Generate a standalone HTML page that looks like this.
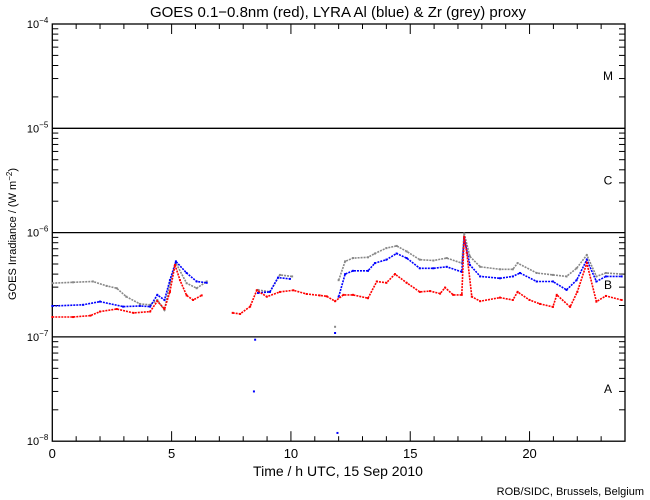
<!DOCTYPE html>
<html><head><meta charset="utf-8"><style>
body{margin:0;background:#fff}
svg{display:block;font-family:"Liberation Sans",sans-serif}
</style></head><body>
<svg id="chart" width="650" height="500" viewBox="0 0 650 500">
<rect width="650" height="500" fill="#fff"/>
<text x="338" y="17" font-size="15" text-anchor="middle">GOES 0.1−0.8nm (red), LYRA Al (blue) &amp; Zr (grey) proxy</text>
<text transform="translate(16,234) rotate(-90)" font-size="11" text-anchor="middle">GOES Irradiance / (W m<tspan dy="-4" font-size="8">−2</tspan><tspan dy="4">)</tspan></text>
<text x="338" y="476" font-size="14" text-anchor="middle">Time / h UTC, 15 Sep 2010</text>
<text x="644" y="495" font-size="11" text-anchor="end">ROB/SIDC, Brussels, Belgium</text>
<g id="axes"></g>
<g id="series"></g>
</svg>
<script>
const redH=[0,0.87,1.6,2.0,2.7,3.4,4.1,4.4,4.7,4.93,5.14,5.35,5.63,5.9,6.26,null,7.56,7.87,8.29,8.57,8.99,9.54,10.1,10.66,11.2,11.5,11.85,12.2,12.6,13.23,13.6,14.0,14.36,14.85,15.4,15.83,16.25,16.46,16.8,17.16,17.26,17.37,17.58,17.93,18.76,19.3,19.5,20.0,20.44,20.98,21.14,21.7,22.0,22.4,22.8,23.2,23.86];
const redV=[1.55,1.55,1.6,1.75,1.85,1.7,1.75,2.2,1.85,2.7,4.9,3.5,2.5,2.26,2.5,null,1.7,1.66,1.95,2.8,2.43,2.7,2.8,2.58,2.5,2.45,2.2,2.53,2.53,2.35,3.4,3.3,4.0,3.3,2.7,2.75,2.6,2.97,2.53,2.53,9.1,6.4,2.43,2.2,2.38,2.26,2.7,2.26,2.07,1.94,2.53,1.94,2.7,5.1,2.18,2.47,2.26];
const blueH=[0,1.29,2.0,2.97,3.67,4.1,4.4,4.7,4.93,5.18,5.63,6.05,6.47,null,8.45,null,8.5,null,8.62,9.12,9.46,9.96,null,11.85,null,11.95,null,12.0,12.27,12.6,13.23,13.52,14.0,14.43,14.85,15.4,15.97,16.53,17.16,17.26,17.5,17.93,18.76,19.3,19.6,20.3,20.98,21.55,21.97,22.4,22.8,23.2,23.86];
const blueV=[1.98,2.03,2.18,1.95,1.98,1.95,2.53,2.26,3.5,5.3,4.1,3.4,3.3,null,0.3,null,0.94,null,2.64,2.7,3.7,3.6,null,1.09,null,0.12,null,2.43,4.0,4.3,4.3,5.1,5.5,6.3,5.7,4.55,4.55,4.7,4.2,8.9,4.9,3.8,3.65,3.8,4.1,3.4,3.4,2.82,3.5,5.5,3.4,3.8,3.8];
const greyH=[0,0.87,1.7,2.28,2.7,3.1,3.67,4.1,4.4,4.7,4.93,5.18,5.63,6.05,6.47,null,8.62,9.12,9.54,10.05,null,11.85,null,12.0,12.27,12.6,13.23,13.52,14.0,14.43,14.85,15.4,15.97,16.53,17.16,17.26,17.5,17.93,18.76,19.3,19.5,20.3,20.98,21.55,21.97,22.4,22.8,23.2,23.86];
const greyV=[3.27,3.34,3.4,3.08,2.93,2.43,2.07,2.03,2.26,1.81,3.27,5.1,3.27,2.93,3.4,null,2.82,2.7,3.93,3.8,null,1.25,null,3.5,5.3,5.7,5.8,6.3,7.1,7.45,6.6,5.5,5.4,5.7,5.1,9.8,5.9,4.7,4.45,4.45,5.1,4.1,3.93,3.8,4.55,6.1,3.8,4.1,4.0];
const xTicks=[0,5,10,15,20];
const decades=[-4,-5,-6,-7,-8];
const classes=["M","C","B","A"];

const NS="http://www.w3.org/2000/svg";
const L=52.3,R=625,T=24,B=441.2;
const xs=h=>L+(R-L)*h/24;
const ylog=lg=>T+(-4-lg)*(B-T)/4;
const yv=v=>ylog(Math.log10(v*1e-7));
function mk(tag,attrs,parent){const e=document.createElementNS(NS,tag);for(const k in attrs)e.setAttribute(k,attrs[k]);parent.appendChild(e);return e;}
const ax=document.getElementById('axes');
const frame=mk('rect',{x:L,y:T,width:R-L,height:B-T,fill:'none',stroke:'#000','stroke-width':1.3},ax);


decades.forEach((d,i)=>{
  const y=ylog(d);
  if(d<-4&&d>-8){const g=mk('line',{x1:L,x2:R,y1:y,y2:y,stroke:'#000','stroke-width':1.3},ax);
    
    }
  const t=mk('text',{x:L-4,y:y+4,'font-size':11,'text-anchor':'end'},ax);
  
  
  t.innerHTML='10<tspan dy="-5" font-size="8">−'+(-d)+'</tspan>';
  if(d>-8){for(let m=2;m<=9;m++){const yy=ylog(d-1+Math.log10(m));
    const a=mk('line',{x1:L,x2:L+6,y1:yy,y2:yy,stroke:'#000'},ax);
    
    
    const b=mk('line',{x1:R,x2:R-6,y1:yy,y2:yy,stroke:'#000'},ax);
    
    }}
});
classes.forEach((c,i)=>{
  const t=mk('text',{x:608,y:ylog(-4.5-i)+4,'font-size':12,'text-anchor':'middle'},ax);
  
  
  t.textContent=c;
});
for(let h=1;h<24;h++){const x=xs(h);const len=h%5===0?10:5;
  const a=mk('line',{x1:x,x2:x,y1:B,y2:B-len,stroke:'#000'},ax);
  
  
  const b=mk('line',{x1:x,x2:x,y1:T,y2:T+len,stroke:'#000'},ax);
  
  }
xTicks.forEach(h=>{const t=mk('text',{x:xs(h),y:B+17,'font-size':13,'text-anchor':'middle'},ax);
  
  
  t.textContent=h;});
const sg=document.getElementById('series');
function draw(H,V,color,name){
  let d='',pen=false;
  H.forEach((h,i)=>{if(h===null||V[i]===null){pen=false;return;}
    d+=(pen?'L':'M')+xs(h).toFixed(1)+' '+yv(V[i]).toFixed(1);pen=true;
    const c=mk('rect',{x:xs(h)-1,y:yv(V[i])-1,width:2,height:2,fill:color},sg);
    
    
  });
  const p=mk('path',{d:d,fill:'none',stroke:color,'stroke-width':1.6,'stroke-dasharray':'2 1'},sg);
  
  
}
draw(greyH,greyV,'#888','zr-proxy-series');
draw(blueH,blueV,'#0000ff','al-proxy-series');
draw(redH,redV,'#ff0000','goes-series');
</script>
</body></html>
